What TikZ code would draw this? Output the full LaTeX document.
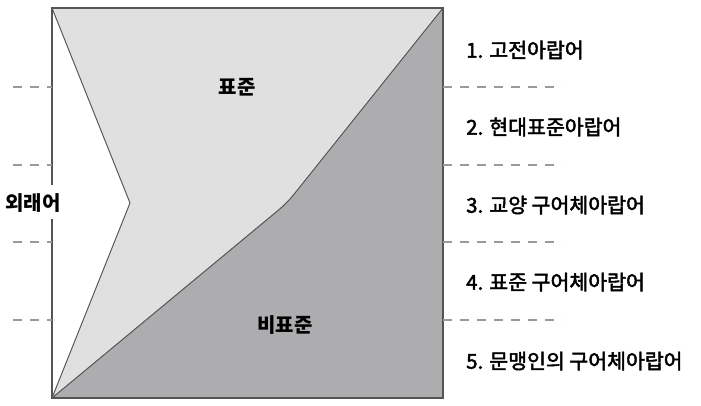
\documentclass[tikz,border=0pt]{standalone}
\usepackage{fontspec}
\newfontfamily\cjk{Noto Sans CJK KR}
\newfontfamily\cjkmed[FakeBold=2.2]{Noto Sans CJK KR}
\definecolor{lightfill}{HTML}{E0E0E0}
\definecolor{darkfill}{HTML}{ADADB0}
\definecolor{edge}{HTML}{555555}
\definecolor{dashc}{HTML}{9A9A9A}
\begin{document}
\begin{tikzpicture}[x=1pt,y=-1pt,
  frame/.style={draw=edge,line width=1.6pt},
  inner/.style={draw=edge,line width=1pt,line join=round},
  guide/.style={draw=dashc,line width=1.4pt,dash pattern=on 9pt off 8pt},
  region/.style={font=\cjk\bfseries\fontsize{20}{22}\selectfont,text=black},
  item/.style={font=\cjkmed\fontsize{20.5}{23}\selectfont,text=black,anchor=west,inner sep=0pt}]
\useasboundingbox (0,0) rectangle (701,405);
\coordinate (TL) at (52,8);
\coordinate (TR) at (443,8);
\coordinate (BR) at (443,398);
\coordinate (BL) at (52,398);
\coordinate (W) at (130,203);
\coordinate (K) at (287,203);
% fills
\fill[lightfill] (TL) -- (TR) -- (K) -- (BL) -- (W) -- cycle;
\fill[darkfill] (BL) -- (K) -- (TR) -- (BR) -- cycle;
\draw[inner] (TL) -- (W) -- (BL);
\draw[inner,rounded corners=10pt] (BL) -- (K) -- (TR);
% frame
\draw[frame] (52,185) -- (TL) -- (TR) -- (BR) -- (BL) -- (52,219);
% dashed guides
\foreach \yy in {87,165,242,320}{
  \draw[guide] (13,\yy) -- (52,\yy);
  \draw[guide] (443,\yy) -- (562,\yy);
}
% region labels
\node[region] (std) at (237,87) {표준};
\node[region] (nonstd) at (285,325) {비표준};
\node[region] (foreign) at (33,203) {외래어};
% list
\node[item] (l1) at (466,50) {1. 고전아랍어};
\node[item] (l2) at (466,127) {2. 현대표준아랍어};
\node[item] (l3) at (466,205) {3. 교양 구어체아랍어};
\node[item] (l4) at (466,282) {4. 표준 구어체아랍어};
\node[item] (l5) at (466,361) {5. 문맹인의 구어체아랍어};
\end{tikzpicture}
\end{document}
